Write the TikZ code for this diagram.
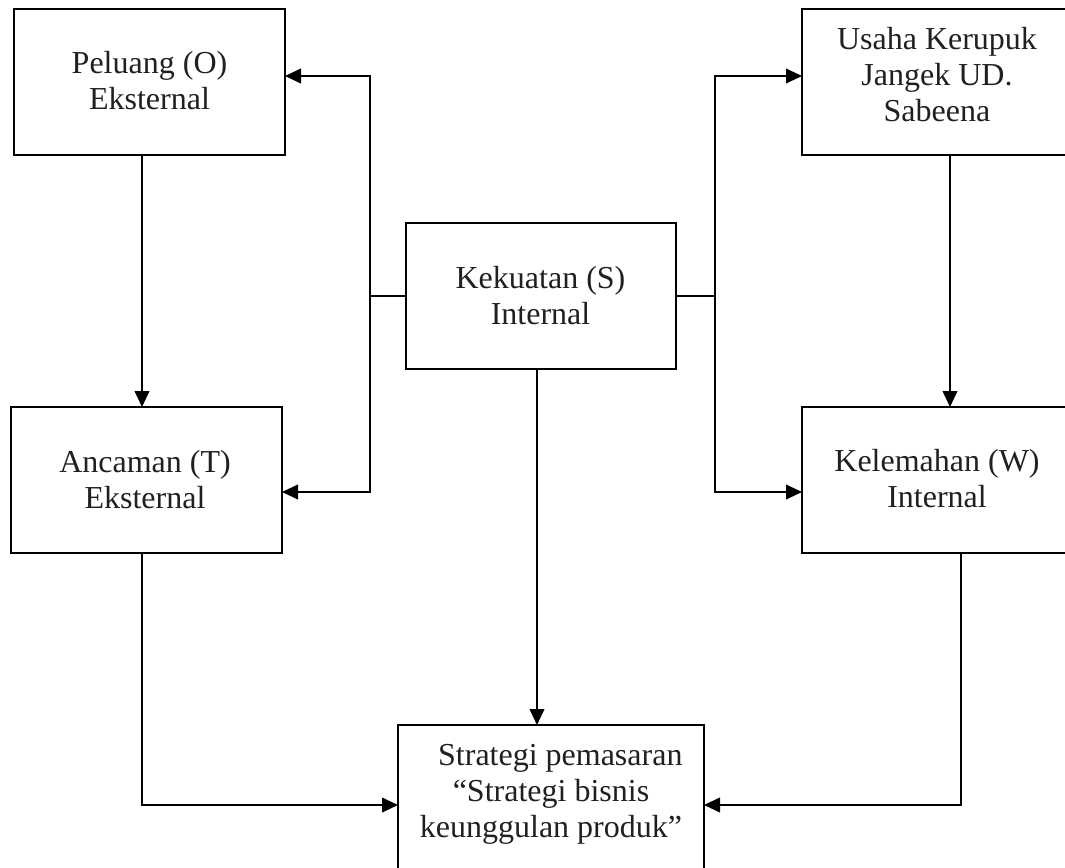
\documentclass[tikz,border=0pt]{standalone}
\usepackage{fontspec}
\setmainfont{Liberation Serif}
\usetikzlibrary{fit,arrows.meta}
\definecolor{ink}{RGB}{35,31,32}
\begin{document}
\begin{tikzpicture}[x=0.75pt,y=-0.75pt,
  box/.style={draw=black,line width=1.3pt,inner sep=0pt,outer sep=0pt,rectangle},
  txt/.style={align=center,inner sep=0pt,text=ink,font=\fontsize{24}{27}\selectfont},
  ln/.style={draw=black,line width=1.4pt},
  arr/.style={ln,-{Triangle[length=12pt,width=11pt]}}]
\useasboundingbox (0,0) rectangle (1065,868);
\clip (0,0) rectangle (1065,868);
% boxes
\node[box,fit={(14,9) (285,155)}] (P) {};
\node[box,fit={(802,9) (1073,155)}] (U) {};
\node[box,fit={(406,223) (676,369)}] (K) {};
\node[box,fit={(11,407) (282,553)}] (A) {};
\node[box,fit={(802,407) (1073,553)}] (W) {};
\node[box,fit={(398,725) (704,872)}] (S) {};
% texts
\node[txt] (tP) at (149.5,81) {Peluang (O)\\Eksternal};
\node[txt] (tU) at (937,75) {Usaha Kerupuk\\Jangek UD.\\Sabeena};
\node[txt] (tK) at (540.5,296) {Kekuatan (S)\\Internal};
\node[txt] (tA) at (145,480) {Ancaman (T)\\Eksternal};
\node[txt] (tW) at (937,479) {Kelemahan (W)\\Internal};
\node[txt] (tS) at (551,794) {\hspace*{14pt}Strategi pemasaran\\“Strategi bisnis\\keunggulan produk”};
% helper coordinates
\coordinate (xL) at (370,0);
\coordinate (xR) at (715,0);
\coordinate (yO) at (0,76);
\coordinate (yT) at (0,492);
\coordinate (yB) at (0,805);
\coordinate (cL) at (142,0);
\coordinate (cR) at (950,0);
\coordinate (cM) at (537,0);
\coordinate (cW) at (961,0);
% connectors
\draw[ln] (K.west) -- (K.west -| xL);
\draw[arr] (K.west -| xL) |- (P.east |- yO);
\draw[arr] (K.west -| xL) |- (A.east |- yT);
\draw[ln] (K.east) -- (K.east -| xR);
\draw[arr] (K.east -| xR) |- (U.west |- yO);
\draw[arr] (K.east -| xR) |- (W.west |- yT);
\draw[arr] (P.south -| cL) -- (A.north -| cL);
\draw[arr] (U.south -| cR) -- (W.north -| cR);
\draw[arr] (K.south -| cM) -- (S.north -| cM);
\draw[arr] (A.south -| cL) |- (S.west |- yB);
\draw[arr] (W.south -| cW) |- (S.east |- yB);
\end{tikzpicture}
\end{document}
